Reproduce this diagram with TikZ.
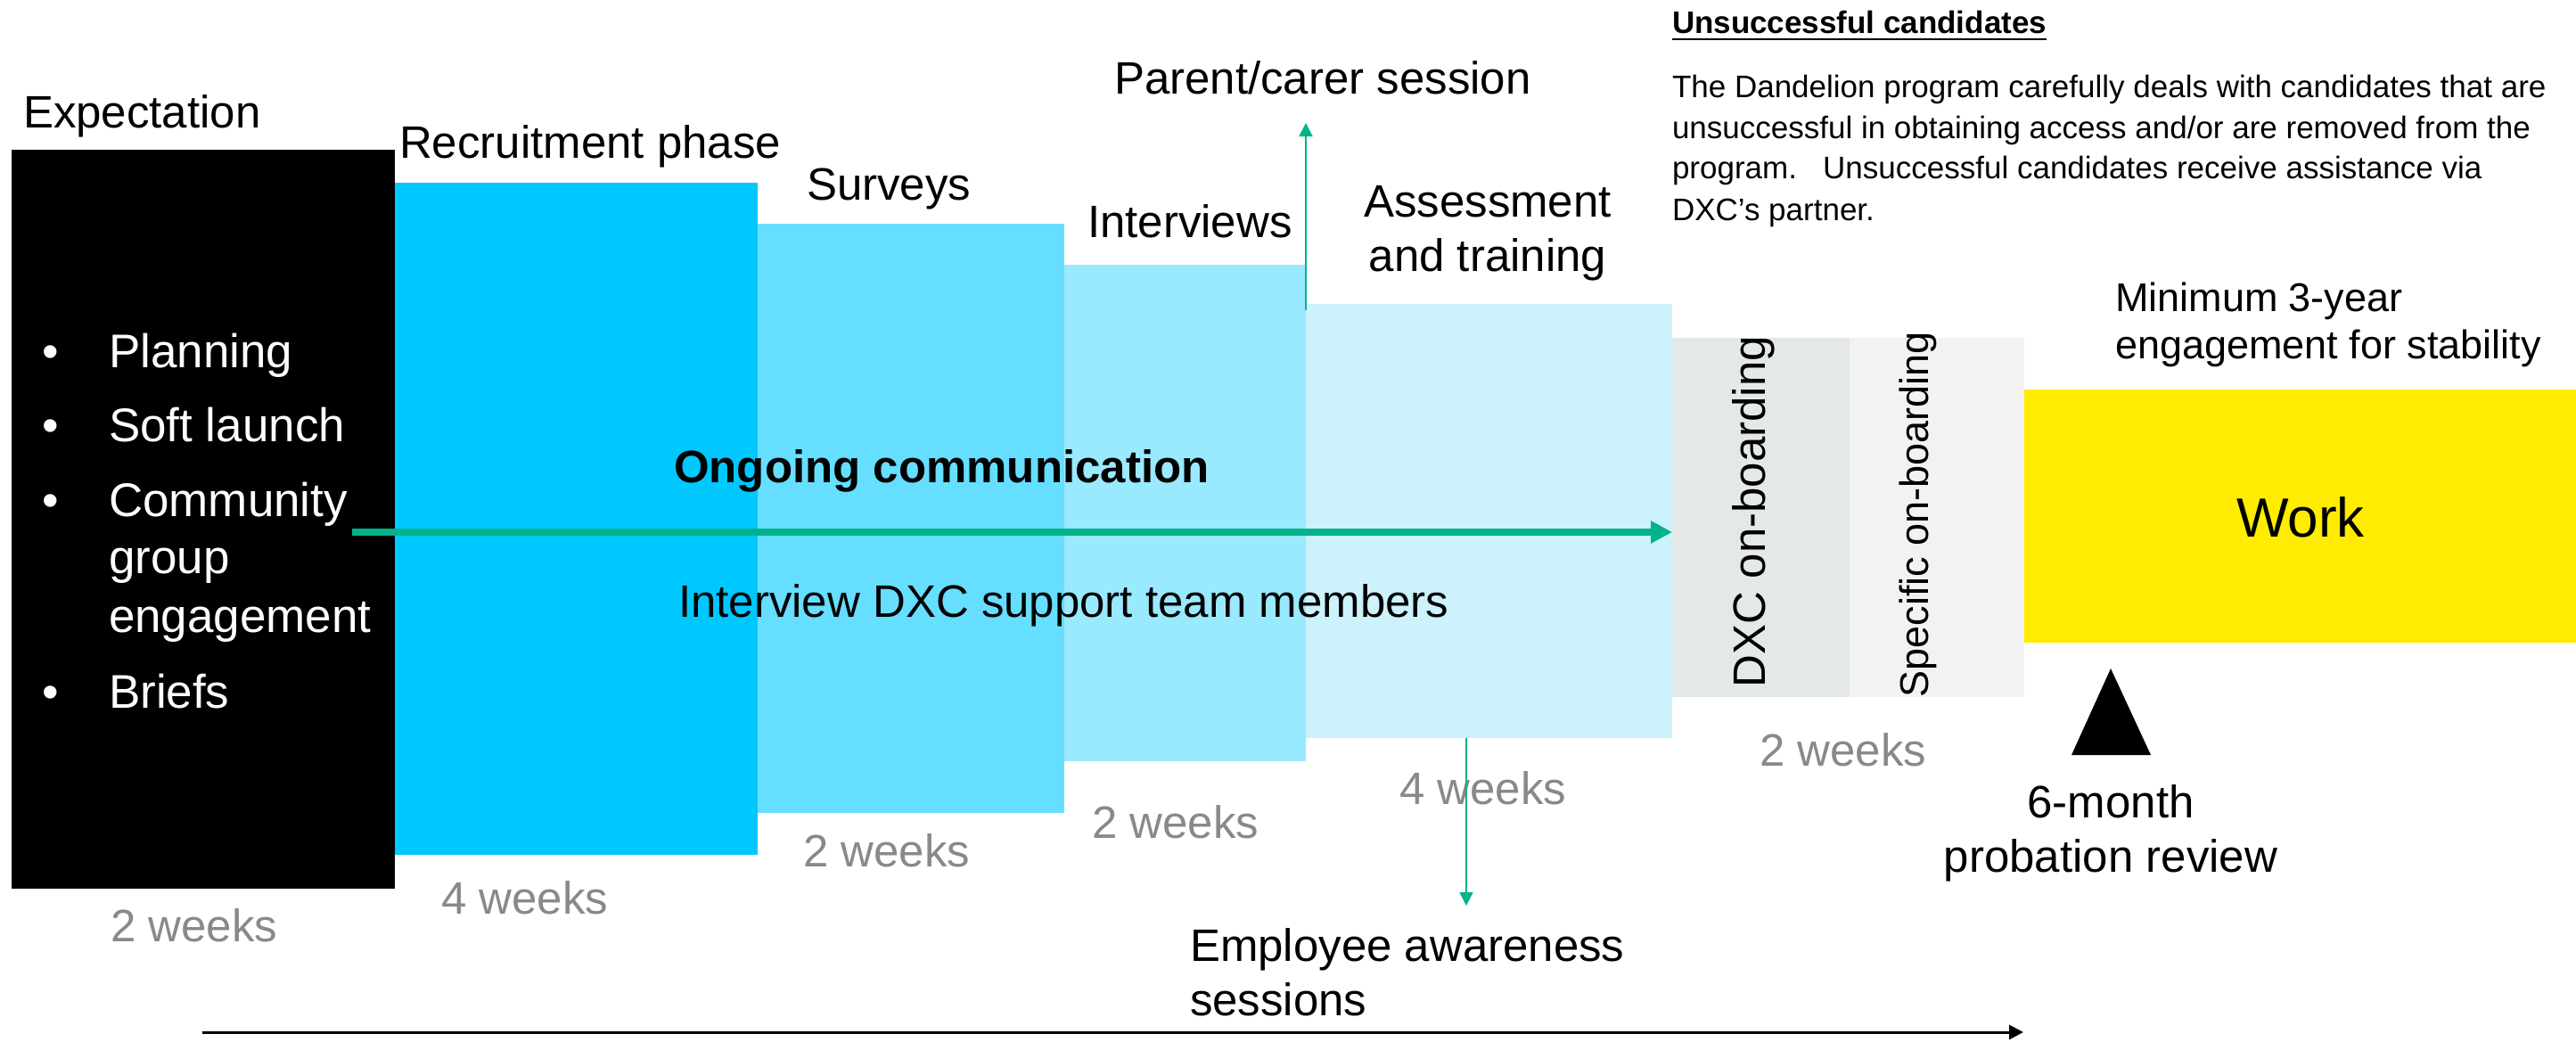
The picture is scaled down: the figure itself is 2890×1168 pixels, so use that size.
\documentclass[tikz,border=0pt]{standalone}
\usepackage{fontspec}
\setmainfont{Liberation Sans}
\usetikzlibrary{arrows.meta}
\definecolor{recC}{HTML}{00C8FF}
\definecolor{surC}{HTML}{66DEFF}
\definecolor{intC}{HTML}{99E9FF}
\definecolor{assC}{HTML}{CCF2FC}
\definecolor{dxcC}{HTML}{E4E8E8}
\definecolor{speC}{HTML}{F2F2F2}
\definecolor{workC}{HTML}{FFEC00}
\definecolor{dxgreen}{HTML}{00B388}
\definecolor{wkgray}{HTML}{898989}
\begin{document}
\begin{tikzpicture}[x=1pt,y=-1pt,
  box/.style={inner sep=0pt,outer sep=0pt,draw=none,anchor=north west},
  lbl/.style={inner sep=0pt,outer sep=0pt,anchor=base west,font=\fontsize{51}{61}\selectfont},
  wk/.style={lbl,text=wkgray},
  bul/.style={lbl,text=white,font=\fontsize{53}{64}\selectfont},
  para/.style={lbl,font=\fontsize{35}{46}\selectfont},
  minim/.style={lbl,font=\fontsize{45}{54}\selectfont},
  thin arrow/.style={draw=dxgreen,line width=2pt,-{Triangle[length=15pt,width=15pt]}},
]
\useasboundingbox (0,0) rectangle (2890,1168);
\fill[white] (0,0) rectangle (2890,1168);

% phase boxes
\node[box,fill=black,minimum width=430pt,minimum height=829pt] (exp) at (13,168) {};
\node[box,fill=recC,minimum width=407pt,minimum height=754pt] (rec) at (443,205) {};
\node[box,fill=surC,minimum width=344pt,minimum height=661pt] (sur) at (850,251) {};
\node[box,fill=intC,minimum width=271pt,minimum height=557pt] (int) at (1194,297) {};
\node[box,fill=assC,minimum width=411pt,minimum height=487pt] (ass) at (1465,341) {};
\node[box,fill=dxcC,minimum width=199pt,minimum height=403pt] (dxc) at (1876,379) {};
\node[box,fill=speC,minimum width=196pt,minimum height=403pt] (spe) at (2075,379) {};
\node[box,fill=workC,minimum width=619pt,minimum height=284pt] (work) at (2271,437) {};

% phase titles
\node[lbl] (expT) at (26,143) {Expectation};
\node[lbl] (recT) at (448,177) {Recruitment phase};
\node[lbl] (surT) at (905,224) {Surveys};
\node[lbl] (intT) at (1220,266) {Interviews};
\node[lbl,anchor=base] (assT1) at (1669,243) {Assessment};
\node[lbl,anchor=base] (assT2) at (1669,304) {and training};
\node[lbl] (parT) at (1250,105) {Parent/carer session};
\node[minim] (minT1) at (2373,349) {Minimum 3-year};
\node[minim] (minT2) at (2373,402) {engagement for stability};
\node[lbl,anchor=base,font=\fontsize{62}{74}\selectfont] (workT) at (2581,602) {Work};

% rotated on-boarding labels
\node[inner sep=0pt,rotate=90,font=\fontsize{51}{61}\selectfont] (dxcT) at (1967,574) {DXC on-boarding};
\node[inner sep=0pt,rotate=90,font=\fontsize{45}{54}\selectfont] (speT) at (2152,577) {Specific on-boarding};

% bullets in black box
\foreach \yy/\tt [count=\i] in {412/Planning,495/Soft launch,579/Community,794/Briefs}{
  \node[bul,anchor=base] (b\i) at (57,\yy) {•};
  \node[bul] (bt\i) at (122,\yy) {\tt};
}
\node[bul] (bt5) at (122,643) {group};
\node[bul] (bt6) at (122,709) {engagement};

% durations
\node[wk] (w1) at (124,1056) {2 weeks};
\node[wk] (w2) at (495,1025) {4 weeks};
\node[wk] (w3) at (901,972) {2 weeks};
\node[wk] (w4) at (1225,940) {2 weeks};
\node[wk] (w5) at (1570,902) {4 weeks};
\node[wk] (w6) at (1974,859) {2 weeks};

% centre texts
\node[lbl] (ong) at (756,541) {\textbf{Ongoing communication}};
\node[lbl] (ivw) at (761,692) {Interview DXC support team members};

% green main arrow
\coordinate (gstart) at (395,597);
\draw[draw=dxgreen,line width=8pt,-{Triangle[length=24pt,width=24pt]}] (gstart) -- (gstart -| dxc.west);

% parent/carer arrow
\coordinate (pstart) at (1465,348);
\coordinate (ptip) at (1465,138);
\draw[thin arrow] (pstart) -- (ptip);

% employee awareness arrow
\coordinate (estart) at (1645,828);
\coordinate (etip) at (1645,1016);
\draw[thin arrow] (estart) -- (etip);
\node[lbl] (emp1) at (1335,1078) {Employee awareness};
\node[lbl] (emp2) at (1335,1139) {sessions};

% probation marker
\fill[black] (2324,847) -- (2368,750) -- (2413,847) -- cycle;
\node[lbl,anchor=base] (prob1) at (2368,917) {6-month};
\node[lbl,anchor=base] (prob2) at (2368,978) {probation review};

% unsuccessful candidates
\node[para] (unsT) at (1876,37) {\textbf{Unsuccessful candidates}};
\draw[line width=2.5pt] ([yshift=-7pt]unsT.base west) -- ([yshift=-7pt]unsT.base east);
\node[para] (p1) at (1876,109) {The Dandelion program carefully deals with candidates that are};
\node[para] (p2) at (1876,155) {unsuccessful in obtaining access and/or are removed from the};
\node[para] (p3) at (1876,200) {program.\ \ \ Unsuccessful candidates receive assistance via};
\node[para] (p4) at (1876,247) {DXC’s partner.};

% timeline arrow
\coordinate (tstart) at (227,1158);
\coordinate (tend) at (2270,1158);
\draw[line width=3pt,-{Triangle[length=16pt,width=16pt]}] (tstart) -- (tend);
\end{tikzpicture}
\end{document}
